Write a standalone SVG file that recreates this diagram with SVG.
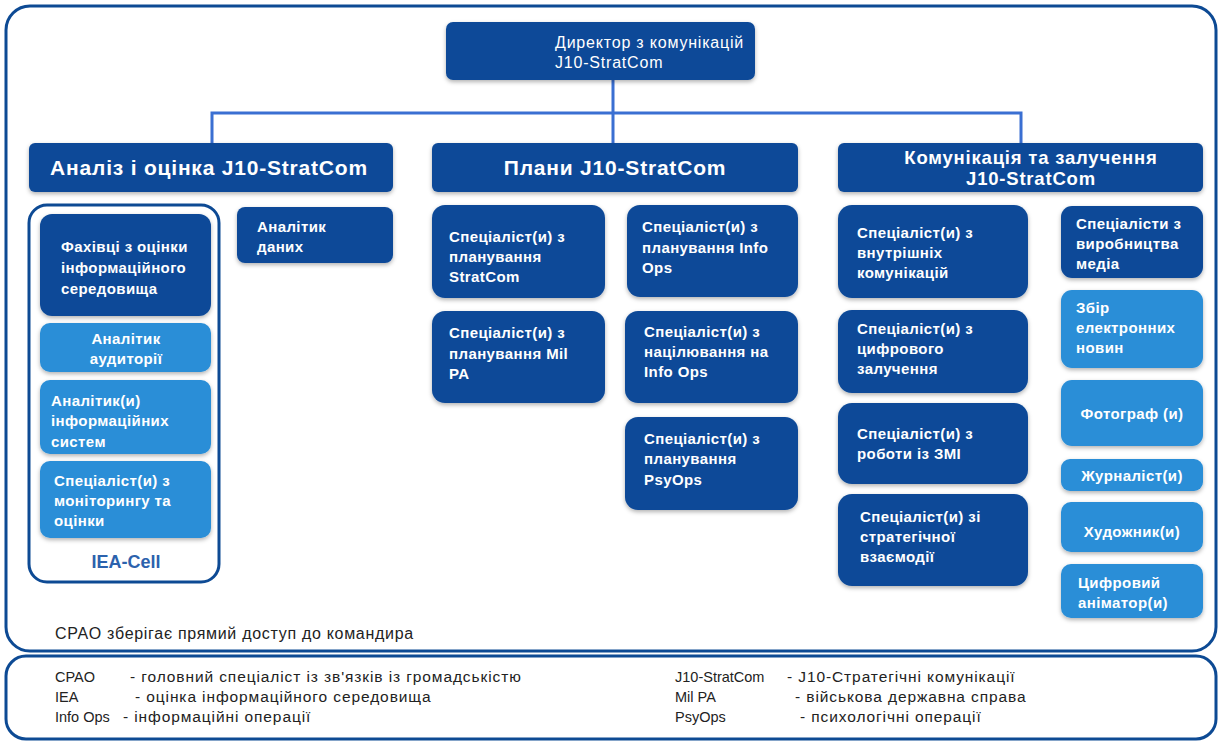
<svg xmlns="http://www.w3.org/2000/svg" width="1219" height="742" viewBox="0 0 1219 742">
<defs>
<filter id="sh" x="-10%" y="-10%" width="120%" height="130%">
<feDropShadow dx="0" dy="2" stdDeviation="2" flood-color="#000" flood-opacity="0.3"/>
</filter>
<style>
.dk{fill:#0c4a98;filter:url(#sh)}
.lt{fill:#2a8ed7;filter:url(#sh)}
.t{font-family:"Liberation Sans",Arial,sans-serif;font-size:15px;letter-spacing:0.4px;font-weight:bold;fill:#fff}
.d{font-family:"Liberation Sans",Arial,sans-serif;font-size:16px;letter-spacing:0.8px;fill:#fff}
.h{font-family:"Liberation Sans",Arial,sans-serif;font-size:21px;letter-spacing:0.8px;font-weight:bold;fill:#fff}
.h3{font-family:"Liberation Sans",Arial,sans-serif;font-size:18.5px;letter-spacing:0.8px;font-weight:bold;fill:#fff}
.n{font-family:"Liberation Sans",Arial,sans-serif;font-size:15.5px;letter-spacing:0.9px;fill:#222}
.k{font-family:"Liberation Sans",Arial,sans-serif;font-size:14.5px;fill:#222}
.c{text-anchor:middle}
.frame{fill:none;stroke:#0d4a94;stroke-width:3}
.con{fill:none;stroke:#3a6fd2;stroke-width:3}
</style>
</defs>
<rect x="0" y="0" width="1219" height="742" fill="#fff"/>
<rect class="frame" x="6" y="6" width="1210" height="645" rx="24"/>
<rect class="frame" x="6" y="656" width="1210" height="83" rx="20"/>

<g id="connectors">
<path class="con" d="M613 80 V143 M212 143 V113 H1021 V143"/>
</g>

<g id="director">
<rect class="dk" x="446" y="22" width="309" height="58" rx="7"/>
<text class="d" x="555" y="48">Директор з комунікацій</text>
<text class="d" x="555" y="68">J10-StratCom</text>
</g>

<g id="h-analysis">
<rect class="dk" x="29" y="143" width="364" height="49" rx="6"/>
<text class="h c" x="209" y="175">Аналіз і оцінка J10-StratCom</text>
</g>
<g id="h-plans">
<rect class="dk" x="432" y="143" width="366" height="49" rx="6"/>
<text class="h c" x="615" y="175">Плани J10-StratCom</text>
</g>
<g id="h-comm">
<rect class="dk" x="838" y="143" width="365" height="49" rx="6"/>
<text class="h3 c" x="1031" y="164">Комунікація та залучення</text>
<text class="h3 c" x="1031" y="185">J10-StratCom</text>
</g>

<g id="iea-cell">
<rect x="29" y="205" width="190" height="377" rx="18" fill="#fff" stroke="#0d4a94" stroke-width="3"/>
<text x="126" y="568" text-anchor="middle" style="font-family:'Liberation Sans',Arial,sans-serif;font-size:18px;font-weight:bold;fill:#2c62ad">IEA-Cell</text>
</g>
<g id="iea-specialists">
<rect class="dk" x="40" y="214" width="171" height="102" rx="12"/>
<text class="t" x="61" y="252">Фахівці з оцінки</text>
<text class="t" x="61" y="273">інформаційного</text>
<text class="t" x="61" y="294">середовища</text>
</g>
<g id="audience-analyst">
<rect class="lt" x="40" y="323" width="171" height="49" rx="10"/>
<text class="t c" x="126" y="344">Аналітик</text>
<text class="t c" x="126" y="364">аудиторії</text>
</g>
<g id="info-systems-analyst">
<rect class="lt" x="40" y="380" width="171" height="74" rx="10"/>
<text class="t" x="51" y="406">Аналітик(и)</text>
<text class="t" x="51" y="426">інформаційних</text>
<text class="t" x="51" y="447">систем</text>
</g>
<g id="monitoring-specialist">
<rect class="lt" x="40" y="461" width="171" height="77" rx="10"/>
<text class="t" x="54" y="486">Спеціаліст(и) з</text>
<text class="t" x="54" y="506">моніторингу та</text>
<text class="t" x="54" y="526">оцінки</text>
</g>
<g id="data-analyst">
<rect class="dk" x="237" y="207" width="156" height="56" rx="8"/>
<text class="t" x="257" y="232">Аналітик</text>
<text class="t" x="257" y="252">даних</text>
</g>

<g id="plan-stratcom">
<rect class="dk" x="432" y="205" width="173" height="93" rx="13"/>
<text class="t" x="449" y="242">Спеціаліст(и) з</text>
<text class="t" x="449" y="262">планування</text>
<text class="t" x="449" y="282">StratCom</text>
</g>
<g id="plan-milpa">
<rect class="dk" x="432" y="311" width="173" height="92" rx="13"/>
<text class="t" x="449" y="338">Спеціаліст(и) з</text>
<text class="t" x="449" y="359">планування Mil</text>
<text class="t" x="449" y="379">PA</text>
</g>
<g id="plan-infoops">
<rect class="dk" x="627" y="205" width="171" height="92" rx="13"/>
<text class="t" x="642" y="232">Спеціаліст(и) з</text>
<text class="t" x="642" y="253">планування Info</text>
<text class="t" x="642" y="273">Ops</text>
</g>
<g id="target-infoops">
<rect class="dk" x="625" y="311" width="173" height="92" rx="13"/>
<text class="t" x="644" y="337">Спеціаліст(и) з</text>
<text class="t" x="644" y="357">націлювання на</text>
<text class="t" x="644" y="377">Info Ops</text>
</g>
<g id="plan-psyops">
<rect class="dk" x="625" y="417" width="173" height="93" rx="13"/>
<text class="t" x="644" y="444">Спеціаліст(и) з</text>
<text class="t" x="644" y="464">планування</text>
<text class="t" x="644" y="485">PsyOps</text>
</g>

<g id="internal-comm">
<rect class="dk" x="838" y="205" width="190" height="93" rx="14"/>
<text class="t" x="857" y="238">Спеціаліст(и) з</text>
<text class="t" x="857" y="258">внутрішніх</text>
<text class="t" x="857" y="278">комунікацій</text>
</g>
<g id="digital-engagement">
<rect class="dk" x="838" y="310" width="190" height="83" rx="14"/>
<text class="t" x="857" y="334">Спеціаліст(и) з</text>
<text class="t" x="857" y="354">цифрового</text>
<text class="t" x="857" y="374">залучення</text>
</g>
<g id="media-relations">
<rect class="dk" x="838" y="403" width="190" height="81" rx="14"/>
<text class="t" x="857" y="439">Спеціаліст(и) з</text>
<text class="t" x="857" y="459">роботи із ЗМІ</text>
</g>
<g id="strategic-engagement">
<rect class="dk" x="838" y="494" width="190" height="92" rx="14"/>
<text class="t" x="860" y="522">Спеціаліст(и) зі</text>
<text class="t" x="860" y="542">стратегічної</text>
<text class="t" x="860" y="562">взаємодії</text>
</g>
<g id="media-production">
<rect class="dk" x="1061" y="206" width="142" height="72" rx="11"/>
<text class="t" x="1076" y="229">Спеціалісти з</text>
<text class="t" x="1076" y="249">виробництва</text>
<text class="t" x="1076" y="269">медіа</text>
</g>
<g id="news-gathering">
<rect class="lt" x="1061" y="290" width="142" height="78" rx="11"/>
<text class="t" x="1076" y="313">Збір</text>
<text class="t" x="1076" y="333">електронних</text>
<text class="t" x="1076" y="353">новин</text>
</g>
<g id="photographer">
<rect class="lt" x="1061" y="380" width="142" height="66" rx="11"/>
<text class="t c" x="1132" y="419">Фотограф (и)</text>
</g>
<g id="journalist">
<rect class="lt" x="1061" y="459" width="142" height="32" rx="9"/>
<text class="t c" x="1132" y="481">Журналіст(и)</text>
</g>
<g id="artist">
<rect class="lt" x="1061" y="502" width="142" height="50" rx="10"/>
<text class="t c" x="1132" y="537">Художник(и)</text>
</g>
<g id="animator">
<rect class="lt" x="1061" y="564" width="142" height="54" rx="10"/>
<text class="t" x="1078" y="588">Цифровий</text>
<text class="t" x="1078" y="608">аніматор(и)</text>
</g>

<g id="note">
<text class="n" style="font-size:16px;letter-spacing:0.7px" x="55" y="639">CPAO зберігає прямий доступ до командира</text>
</g>

<g id="legend">
<text class="k" x="55" y="682">CPAO</text>
<text class="n" x="130" y="682">- головний спеціаліст із зв'язків із громадськістю</text>
<text class="k" x="55" y="702">IEA</text>
<text class="n" x="135" y="702">- оцінка інформаційного середовища</text>
<text class="k" x="55" y="722">Info Ops</text>
<text class="n" x="123" y="722">- інформаційні операції</text>
<text class="k" x="675" y="682">J10-StratCom</text>
<text class="n" x="787" y="682">- J10-Стратегічні комунікації</text>
<text class="k" x="675" y="702">Mil PA</text>
<text class="n" x="795" y="702">- військова державна справа</text>
<text class="k" x="675" y="722">PsyOps</text>
<text class="n" x="800" y="722">- психологічні операції</text>
</g>
</svg>
